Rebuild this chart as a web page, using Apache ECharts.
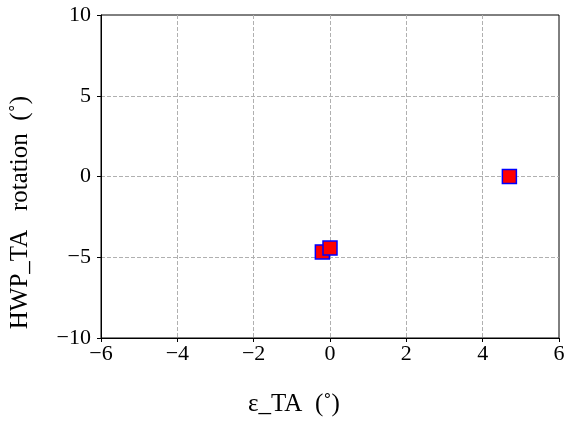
<!DOCTYPE html>
<html>
<head>
<meta charset="utf-8">
<script src="https://cdn.jsdelivr.net/npm/echarts@6/dist/echarts.min.js"></script>
<style>
  html, body { margin: 0; padding: 0; background: #fff; }
  #chart { width: 571px; height: 422px; }
</style>
</head>
<body>
<div id="chart"></div>
<script>
const epsTA = [4.7, -0.2, 0.0]
const hwpRotation = [0.0, -4.67, -4.43]
const xTicks = [-6, 6, 2]
const yTicks = [-10, 10, 5]

const font = 'Liberation Serif'
const fmt = (v) => (v < 0 ? '\u2212' + Math.abs(v) : String(v))

const chart = echarts.init(document.getElementById('chart'), null, { renderer: 'canvas' })

const gridLine = { show: true, showMinLine: false, showMaxLine: false, lineStyle: { color: '#b0b0b0', type: [4, 2], width: 1 } }

chart.setOption({
  animation: false,
  backgroundColor: '#fff',
  textStyle: { fontFamily: font },
  grid: { left: 101, right: 12, top: 15, bottom: 84, show: true, borderColor: '#000', borderWidth: 1 },
  xAxis: {
    type: 'value',
    min: xTicks[0],
    max: xTicks[1],
    interval: xTicks[2],
    name: 'ε_TA  (˚)',
    nameLocation: 'middle',
    nameGap: 54,
    // label sits left of the axis centre in the original
    nameTextStyle: { color: '#000', fontSize: 25, fontFamily: font, padding: [0, 72, 0, 0] },
    axisLine: { onZero: false, lineStyle: { color: '#000', width: 1 } },
    axisTick: { inside: false, length: 4, lineStyle: { color: '#000' } },
    axisLabel: { color: '#000', fontSize: 22, fontFamily: font, margin: 5, formatter: fmt },
    splitLine: gridLine
  },
  yAxis: {
    type: 'value',
    min: yTicks[0],
    max: yTicks[1],
    interval: yTicks[2],
    name: 'HWP_TA   rotation  (˚)',
    nameLocation: 'middle',
    nameGap: 68,
    nameTextStyle: { color: '#000', fontSize: 25, fontFamily: font, padding: [0, 72, 0, 0] },
    axisLine: { onZero: false, lineStyle: { color: '#000', width: 1 } },
    axisTick: { inside: false, length: 4, lineStyle: { color: '#000' } },
    axisLabel: { color: '#000', fontSize: 22, fontFamily: font, margin: 10, formatter: fmt },
    splitLine: gridLine
  },
  series: [
    {
      type: 'scatter',
      data: epsTA.map((x, i) => [x, hwpRotation[i]]),
      symbol: 'rect',
      symbolSize: 14,
      itemStyle: { color: '#ff0000', borderColor: '#0000ff', borderWidth: 1.5, opacity: 1 }
    }
  ]
})
</script>
</body>
</html>
